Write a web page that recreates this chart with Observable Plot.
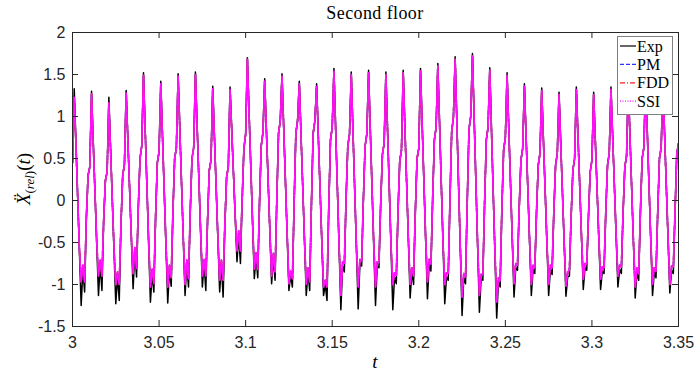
<!DOCTYPE html>
<html><head><meta charset="utf-8">
<script src="https://cdn.jsdelivr.net/npm/d3@7"></script>
<script src="https://cdn.jsdelivr.net/npm/@observablehq/plot@0.6"></script>
<style>html,body{margin:0;padding:0;background:#fff}svg{display:block}</style>
</head><body><div id="chart"></div>
<script>
// Sampling grid of the record (s)
const tStart = 3.0;
const tStep = 0.001;
// First sample (t = 3.000)
const startValue = 0.45;

// Measured ("Exp") acceleration, one row per cycle: 10 samples (1 ms apart) starting at each peak
const expRows = [
  [1.33, 0.69, 0.04, -0.61, -1.25, -0.82, -1.09, -0.22, 0.30, 0.40],
  [1.30, 0.69, 0.09, -0.52, -1.13, -0.76, -1.07, -0.25, 0.24, 0.34],
  [1.23, 0.62, 0.00, -0.62, -1.23, -0.90, -1.19, -0.30, 0.30, 0.43],
  [1.31, 0.72, 0.13, -0.46, -1.05, -0.61, -0.91, -0.10, 0.50, 0.65],
  [1.52, 0.84, 0.16, -0.53, -1.21, -0.87, -1.09, -0.20, 0.45, 0.58],
  [1.42, 0.76, 0.10, -0.56, -1.22, -0.82, -1.02, -0.15, 0.50, 0.63],
  [1.51, 0.85, 0.19, -0.47, -1.13, -0.76, -1.03, -0.15, 0.50, 0.63],
  [1.53, 0.89, 0.25, -0.39, -1.03, -0.75, -1.07, -0.25, 0.36, 0.48],
  [1.36, 0.75, 0.14, -0.48, -1.09, -0.76, -1.15, -0.30, 0.28, 0.40],
  [1.35, 0.83, 0.31, -0.21, -0.73, -0.41, -0.75, 0.00, 0.62, 0.79],
  [1.70, 1.04, 0.39, -0.27, -0.93, -0.67, -0.92, -0.05, 0.65, 0.81],
  [1.45, 0.84, 0.23, -0.38, -0.99, -0.68, -0.95, 0.00, 0.80, 0.95],
  [1.51, 0.87, 0.22, -0.43, -1.07, -0.89, -1.03, -0.05, 0.80, 0.95],
  [1.42, 0.78, 0.15, -0.49, -1.13, -0.85, -1.07, -0.05, 0.80, 0.95],
  [1.39, 0.76, 0.13, -0.50, -1.13, -1.00, -1.19, -0.10, 0.72, 0.87],
  [1.57, 0.85, 0.14, -0.58, -1.30, -0.78, -0.85, 0.00, 0.65, 0.79],
  [1.53, 0.83, 0.12, -0.59, -1.29, -0.75, -0.78, 0.00, 0.65, 0.79],
  [1.55, 0.85, 0.15, -0.55, -1.25, -0.78, -0.80, -0.05, 0.55, 0.68],
  [1.53, 0.82, 0.12, -0.59, -1.30, -0.91, -0.99, -0.15, 0.47, 0.60],
  [1.55, 0.87, 0.20, -0.48, -1.16, -0.85, -1.00, -0.15, 0.50, 0.62],
  [1.57, 0.89, 0.20, -0.49, -1.17, -0.75, -0.84, 0.00, 0.72, 0.87],
  [1.63, 0.92, 0.20, -0.52, -1.23, -0.91, -0.95, -0.02, 0.82, 0.99],
  [1.71, 0.94, 0.17, -0.60, -1.37, -0.92, -0.99, -0.02, 0.85, 1.00],
  [1.75, 0.98, 0.21, -0.56, -1.33, -0.93, -0.95, -0.05, 0.72, 0.87],
  [1.58, 0.84, 0.09, -0.66, -1.40, -0.97, -1.03, -0.10, 0.60, 0.75],
  [1.52, 0.85, 0.19, -0.48, -1.15, -0.80, -0.83, -0.10, 0.48, 0.62],
  [1.39, 0.76, 0.13, -0.50, -1.13, -0.82, -0.87, -0.15, 0.42, 0.56],
  [1.34, 0.72, 0.11, -0.51, -1.13, -0.82, -0.88, -0.15, 0.42, 0.56],
  [1.29, 0.68, 0.08, -0.53, -1.14, -0.91, -0.90, -0.20, 0.36, 0.50],
  [1.35, 0.75, 0.15, -0.46, -1.06, -0.80, -0.83, -0.20, 0.34, 0.48],
  [1.29, 0.70, 0.12, -0.47, -1.06, -0.84, -0.87, -0.15, 0.42, 0.56],
  [1.35, 0.76, 0.16, -0.44, -1.03, -0.82, -0.87, -0.15, 0.40, 0.53],
  [1.40, 0.76, 0.12, -0.52, -1.16, -0.85, -0.95, -0.15, 0.50, 0.63],
  [1.45, 0.81, 0.16, -0.49, -1.13, -0.85, -0.92, -0.15, 0.50, 0.63],
  [1.40, 0.78, 0.15, -0.48, -1.10, -0.83, -0.87, -0.15, 0.55, 0.68]
];

// Identified-model responses (PM, FDD, SSI overlap almost exactly in the picture)
const pmRows = [
  [1.23, 0.66, 0.04, -0.58, -0.97, -0.77, -0.97, -0.20, 0.30, 0.40],
  [1.27, 0.67, 0.09, -0.50, -0.90, -0.71, -0.90, -0.23, 0.24, 0.34],
  [1.16, 0.59, 0.00, -0.58, -1.00, -0.85, -1.00, -0.28, 0.30, 0.43],
  [1.28, 0.70, 0.13, -0.44, -0.87, -0.56, -0.81, -0.08, 0.50, 0.65],
  [1.49, 0.82, 0.16, -0.50, -1.03, -0.82, -0.99, -0.18, 0.45, 0.58],
  [1.39, 0.74, 0.10, -0.53, -1.03, -0.77, -0.92, -0.13, 0.50, 0.63],
  [1.48, 0.83, 0.19, -0.45, -1.00, -0.71, -0.93, -0.13, 0.50, 0.63],
  [1.50, 0.87, 0.25, -0.37, -0.90, -0.70, -0.90, -0.23, 0.36, 0.48],
  [1.33, 0.73, 0.14, -0.46, -0.95, -0.71, -0.95, -0.28, 0.28, 0.40],
  [1.32, 0.81, 0.31, -0.19, -0.60, -0.36, -0.60, 0.02, 0.62, 0.79],
  [1.68, 1.02, 0.39, -0.25, -0.82, -0.62, -0.82, -0.03, 0.65, 0.81],
  [1.42, 0.82, 0.23, -0.36, -0.90, -0.63, -0.85, 0.02, 0.80, 0.95],
  [1.48, 0.85, 0.22, -0.41, -0.99, -0.84, -0.93, -0.03, 0.80, 0.95],
  [1.39, 0.76, 0.15, -0.47, -1.00, -0.80, -0.97, -0.03, 0.80, 0.95],
  [1.36, 0.74, 0.13, -0.48, -1.03, -0.95, -1.03, -0.08, 0.72, 0.87],
  [1.54, 0.83, 0.14, -0.55, -1.13, -0.73, -0.75, 0.02, 0.65, 0.79],
  [1.50, 0.81, 0.12, -0.55, -1.03, -0.70, -0.72, 0.02, 0.65, 0.79],
  [1.52, 0.83, 0.15, -0.52, -1.03, -0.73, -0.74, -0.03, 0.55, 0.68],
  [1.50, 0.80, 0.12, -0.55, -1.00, -0.86, -0.89, -0.13, 0.47, 0.60],
  [1.52, 0.85, 0.20, -0.46, -1.00, -0.80, -0.90, -0.13, 0.50, 0.62],
  [1.54, 0.87, 0.20, -0.47, -0.97, -0.70, -0.76, 0.02, 0.72, 0.87],
  [1.60, 0.90, 0.20, -0.50, -1.00, -0.86, -0.87, 0.00, 0.82, 0.99],
  [1.68, 0.92, 0.17, -0.57, -1.15, -0.87, -0.91, 0.00, 0.85, 1.00],
  [1.72, 0.96, 0.21, -0.53, -1.13, -0.88, -0.88, -0.03, 0.72, 0.87],
  [1.55, 0.82, 0.09, -0.62, -1.21, -0.92, -0.95, -0.08, 0.60, 0.75],
  [1.49, 0.83, 0.19, -0.46, -0.99, -0.75, -0.77, -0.08, 0.48, 0.62],
  [1.36, 0.74, 0.13, -0.48, -1.00, -0.77, -0.80, -0.13, 0.42, 0.56],
  [1.31, 0.70, 0.11, -0.49, -1.00, -0.77, -0.80, -0.13, 0.42, 0.56],
  [1.26, 0.66, 0.08, -0.51, -1.02, -0.86, -0.82, -0.18, 0.36, 0.50],
  [1.32, 0.73, 0.15, -0.44, -0.94, -0.75, -0.76, -0.18, 0.34, 0.48],
  [1.26, 0.68, 0.12, -0.45, -0.94, -0.79, -0.80, -0.13, 0.42, 0.56],
  [1.32, 0.74, 0.16, -0.42, -0.90, -0.77, -0.79, -0.13, 0.40, 0.53],
  [1.37, 0.74, 0.12, -0.50, -1.03, -0.80, -0.87, -0.13, 0.50, 0.63],
  [1.42, 0.79, 0.16, -0.47, -1.00, -0.80, -0.84, -0.13, 0.50, 0.63],
  [1.37, 0.76, 0.15, -0.46, -1.00, -0.78, -0.79, -0.13, 0.55, 0.68]
];
const fddRows = pmRows;
const ssiRows = pmRows;

const seriesNames = ["Exp", "PM", "FDD", "SSI"];
const xTicks = [3, 3.05, 3.1, 3.15, 3.2, 3.25, 3.3, 3.35];
const xTickLabels = ["3", "3.05", "3.1", "3.15", "3.2", "3.25", "3.3", "3.35"];
const yTicks = [-1.5, -1, -0.5, 0, 0.5, 1, 1.5, 2];
const yTickLabels = ["-1.5", "-1", "-0.5", "0", "0.5", "1", "1.5", "2"];
const titleText = "Second floor";

function toSeries(rows) {
  const vals = [startValue, ...rows.flat()];
  return vals.map((v, i) => ({t: tStart + i * tStep, v}));
}
const exp = toSeries(expRows), pm = toSeries(pmRows), fdd = toSeries(fddRows), ssi = toSeries(ssiRows);

const W = 694, H = 373;
const mL = 72, mR = 16, mT = 32, mB = 47;
const pw = W - mL - mR, ph = H - mT - mB;
const axisColor = "#262626";
const lineStyles = [
  {stroke: "#000000", dash: null, width: 1.5},
  {stroke: "#3030ff", dash: "4,2", width: 1.6},
  {stroke: "#ff2020", dash: "5,2,1,2", width: 1.6},
  {stroke: "#ff10ff", dash: "1.4,0.8", width: 1.6}
];
const legendDash = [null, "4,2", "5,2,1,2", "1,1.5"];
const seriesData = [exp, pm, fdd, ssi];

const chart = Plot.plot({
  width: W, height: H,
  marginLeft: mL, marginRight: mR, marginTop: mT, marginBottom: mB,
  style: {fontFamily: "'Liberation Sans', Arial, sans-serif", fontSize: "16px", color: axisColor, background: "#fff"},
  x: {domain: [3, 3.35]},
  y: {domain: [-1.5, 2]},
  marks: [
    ...seriesData.map((d, i) => Plot.line(d, {
      x: "t", y: "v", stroke: lineStyles[i].stroke, strokeWidth: lineStyles[i].width,
      strokeDasharray: lineStyles[i].dash, clip: true
    })),
    Plot.frame({stroke: axisColor, strokeWidth: 1}),
    Plot.tickX(xTicks, {x: d => d, insetTop: ph - 6, stroke: axisColor}),
    Plot.tickX(xTicks, {x: d => d, insetBottom: ph - 6, stroke: axisColor}),
    Plot.tickY(yTicks, {y: d => d, insetRight: pw - 6, stroke: axisColor}),
    Plot.tickY(yTicks, {y: d => d, insetLeft: pw - 6, stroke: axisColor}),
    Plot.axisX(xTicks, {tickSize: 0, tickPadding: 10, label: null, tickFormat: d => xTickLabels[xTicks.indexOf(d)], fill: axisColor}),
    Plot.axisY(yTicks, {tickSize: 0, tickPadding: 7, label: null, tickFormat: d => yTickLabels[yTicks.indexOf(d)], fill: axisColor})
  ]
});
document.getElementById("chart").appendChild(chart);

const svg = d3.select(chart);
const serif = "'Liberation Serif', 'Times New Roman', serif";
// Title
svg.append("text").attr("x", mL + pw / 2).attr("y", 19).attr("text-anchor", "middle")
  .attr("font-family", serif).attr("font-size", 18).attr("letter-spacing", 0.4).attr("fill", "#000").text(titleText);
// x label
svg.append("text").attr("x", mL + pw / 2).attr("y", 368).attr("text-anchor", "middle")
  .attr("font-family", serif).attr("font-size", 19).attr("font-style", "italic").attr("fill", "#000").text("t");
// y label
const yl = svg.append("text").attr("transform", `translate(30,${mT + ph / 2}) rotate(-90)`)
  .attr("text-anchor", "middle").attr("font-family", serif).attr("font-size", 19).attr("fill", "#000");
yl.append("tspan").attr("font-style", "italic").text("X\u0308");
yl.append("tspan").attr("font-size", 13).attr("dy", 4).text("(");
yl.append("tspan").attr("font-size", 13).attr("font-style", "italic").text("rel");
yl.append("tspan").attr("font-size", 13).text(")");
yl.append("tspan").attr("dy", -4).text("(");
yl.append("tspan").attr("font-style", "italic").text("t");
yl.append("tspan").text(")");

// Legend
const lx = 617.5, ly = 36.5, lw = 55, lh = 78;
svg.append("rect").attr("x", lx).attr("y", ly).attr("width", lw).attr("height", lh)
  .attr("fill", "#fff").attr("stroke", "#808080").attr("stroke-width", 1);
seriesNames.forEach((name, i) => {
  const cy = 46 + i * 18.4;
  const ln = svg.append("line").attr("x1", 620).attr("x2", 636).attr("y1", cy).attr("y2", cy)
    .attr("stroke", lineStyles[i].stroke).attr("stroke-width", 1.2);
  if (legendDash[i]) ln.attr("stroke-dasharray", legendDash[i]);
  svg.append("text").attr("x", 637).attr("y", cy + 5.5).attr("text-anchor", "start")
    .attr("font-family", serif).attr("font-size", 16).attr("fill", "#000").text(name);
});
</script>
</body></html>
